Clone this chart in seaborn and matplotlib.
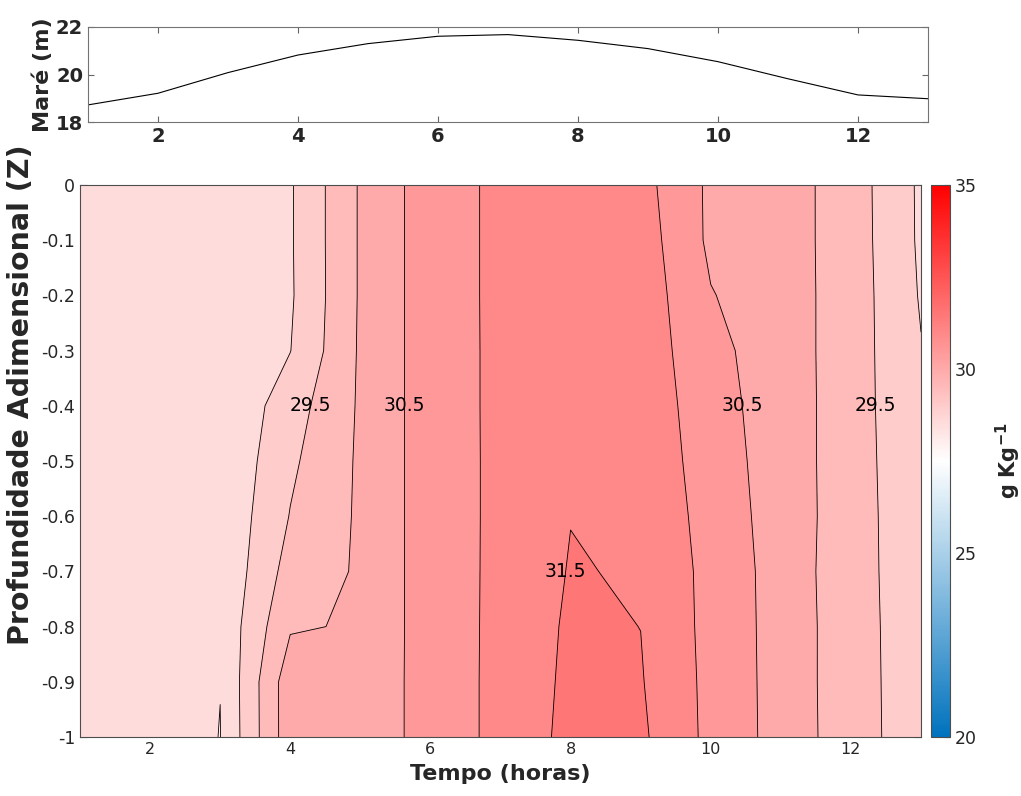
import numpy as np
import pandas as pd
import matplotlib
matplotlib.use("Agg")
import matplotlib.pyplot as plt
import seaborn as sns
from matplotlib.colors import LinearSegmentedColormap, Normalize
from matplotlib.cm import ScalarMappable

# tempo (horas) e profundidade adimensional
tempo = [1, 2, 3, 4, 5, 6, 7, 8, 9, 10, 11, 12, 13]
profundidade = [0, -0.1, -0.2, -0.3, -0.4, -0.5, -0.6, -0.7, -0.8, -0.9, -1.0]

# mare (m)
mare = [18.72, 19.21, 20.08, 20.82, 21.30, 21.61, 21.68, 21.44, 21.09, 20.54, 19.82, 19.14, 18.98]

# salinidade (g/kg) por nivel de profundidade, uma lista por linha
sal_z00 = [28.70, 28.80, 28.85, 28.95, 30.05, 30.764, 31.10, 31.30, 31.177, 30.408, 30.240, 29.750, 28.920]
sal_z01 = [28.70, 28.80, 28.85, 28.95, 30.05, 30.764, 31.10, 31.32, 31.254, 30.407, 30.233, 29.758, 28.925]
sal_z02 = [28.70, 28.80, 28.85, 28.94, 30.05, 30.764, 31.10, 31.35, 31.292, 30.523, 30.235, 29.765, 28.960]
sal_z03 = [28.70, 28.80, 28.85, 28.99, 30.06, 30.758, 31.10, 31.38, 31.301, 30.632, 30.254, 29.746, 29.020]
sal_z04 = [28.70, 28.80, 28.52, 29.27, 30.06, 30.758, 31.10, 31.41, 31.375, 30.667, 30.296, 29.715, 29.100]
sal_z05 = [28.70, 28.80, 28.54, 29.41, 30.07, 30.753, 31.10, 31.45, 31.436, 30.709, 30.307, 29.705, 29.150]
sal_z06 = [28.70, 28.80, 28.575, 29.52, 30.07, 30.753, 31.10, 31.49, 31.470, 30.779, 30.298, 29.725, 29.148]
sal_z07 = [28.70, 28.80, 28.568, 29.70, 30.06, 30.758, 31.10, 31.53, 31.455, 30.850, 30.300, 29.700, 29.200]
sal_z08 = [28.70, 28.80, 28.60, 29.95, 30.048, 30.765, 31.10, 31.58, 31.497, 30.852, 30.310, 29.714, 29.204]
sal_z09 = [28.70, 28.80, 28.507, 30.30, 30.35, 30.59, 31.18, 31.59, 31.533, 30.867, 30.311, 29.713, 29.218]
sal_z10 = [28.70, 28.82, 28.49, 30.30, 30.35, 30.59, 31.18, 31.62, 31.586, 30.872, 30.317, 29.719, 29.221]

niveis_fill = [28, 28.5, 29, 29.5, 30, 30.5, 31, 31.5, 32]
niveis_linha = [28.5, 29, 30, 31]
niveis_rotulo = [29.5, 30.5, 31.5]
cbar_ticks = [20, 25, 30, 35]

sns.set_style("ticks", {"xtick.direction": "in", "ytick.direction": "in"})
plt.rcParams["font.family"] = ["DejaVu Sans"]
plt.rcParams["axes.unicode_minus"] = False
plt.rcParams["mathtext.fontset"] = "dejavusans"

fig = plt.figure(figsize=(10.21, 7.96), dpi=100)
W, H = 1021, 796

# ---- painel da mare
ax1 = fig.add_axes([88 / W, 1 - 122 / H, 840 / W, 95 / H])
df_mare = pd.DataFrame({"tempo": tempo, "mare": mare})
sns.lineplot(data=df_mare, x="tempo", y="mare", color="black", lw=0.8, ax=ax1)
ax1.set_xlim(1, 13)
ax1.set_ylim(18, 22)
ax1.set_xticks([2, 4, 6, 8, 10, 12])
ax1.set_yticks([18, 20, 22])
ax1.tick_params(top=True, right=True, labelsize=14, length=4, color="0.4")
for lab in ax1.get_xticklabels() + ax1.get_yticklabels():
    lab.set_fontweight("bold")
    lab.set_color("0.15")
ax1.set_xlabel("")
ax1.set_ylabel("Maré (m)", fontsize=16, fontweight="bold", labelpad=2)
for s in ax1.spines.values():
    s.set_color("0.45")

# ---- painel da salinidade
ax2 = fig.add_axes([80 / W, 1 - 737 / H, 841 / W, 552 / H])
S = np.array([sal_z00, sal_z01, sal_z02, sal_z03, sal_z04, sal_z05,
              sal_z06, sal_z07, sal_z08, sal_z09, sal_z10])
T, Z = np.meshgrid(tempo, profundidade)

cmap = LinearSegmentedColormap.from_list("azul_verm", ["#0072BD", "#FFFFFF", "#FF0000"])
norm = Normalize(20, 35)
cores = [cmap(norm(v)) for v in niveis_fill[:-1]]

ax2.contourf(T, Z, S, levels=niveis_fill, colors=cores)
ax2.contour(T, Z, S, levels=niveis_linha, colors="black", linewidths=0.6)
cs_rot = ax2.contour(T, Z, S, levels=niveis_rotulo, colors="black", linewidths=0.6)
pos = [(4.29, -0.4), (5.63, -0.4), (7.93, -0.7), (10.45, -0.4), (12.34, -0.4)]
txts = ax2.clabel(cs_rot, manual=pos, inline=False,
                  fmt="%.1f", fontsize=13.5, colors="black")
for t in txts:
    t.set_rotation(0)

ax2.set_xlim(1, 13)
ax2.set_ylim(-1, 0)
ax2.set_xticks([2, 4, 6, 8, 10, 12])
ax2.set_yticks(profundidade)
ax2.set_yticklabels(["0", "-0.1", "-0.2", "-0.3", "-0.4", "-0.5",
                     "-0.6", "-0.7", "-0.8", "-0.9", "-1"])
ax2.tick_params(top=True, right=True, length=5, color="0.3", width=0.8)
ax2.tick_params(axis="y", labelsize=12.5, labelcolor="0.15")
ax2.tick_params(axis="x", labelsize=11.5, labelcolor="0.15")
ax2.set_xlabel("Tempo (horas)", fontsize=16, fontweight="bold", labelpad=5)
ax2.set_ylabel("Profundidade Adimensional (Z)", fontsize=20.5, fontweight="bold")
ax2.yaxis.set_label_coords(-0.054, 0.62)
for s in ax2.spines.values():
    s.set_color("0.3")

# ---- barra de cores
cax = fig.add_axes([931 / W, 1 - 737 / H, 19 / W, 552 / H])
sm = ScalarMappable(norm=norm, cmap=cmap)
cb = fig.colorbar(sm, cax=cax, ticks=cbar_ticks)
cb.ax.tick_params(direction="in", labelsize=12.5, length=4, labelcolor="0.15")
cb.outline.set_edgecolor("0.3")
cb.set_label(r"$\mathbf{g\ Kg^{-1}}$", fontsize=15, labelpad=12)

fig.savefig("out.png", dpi=100)
